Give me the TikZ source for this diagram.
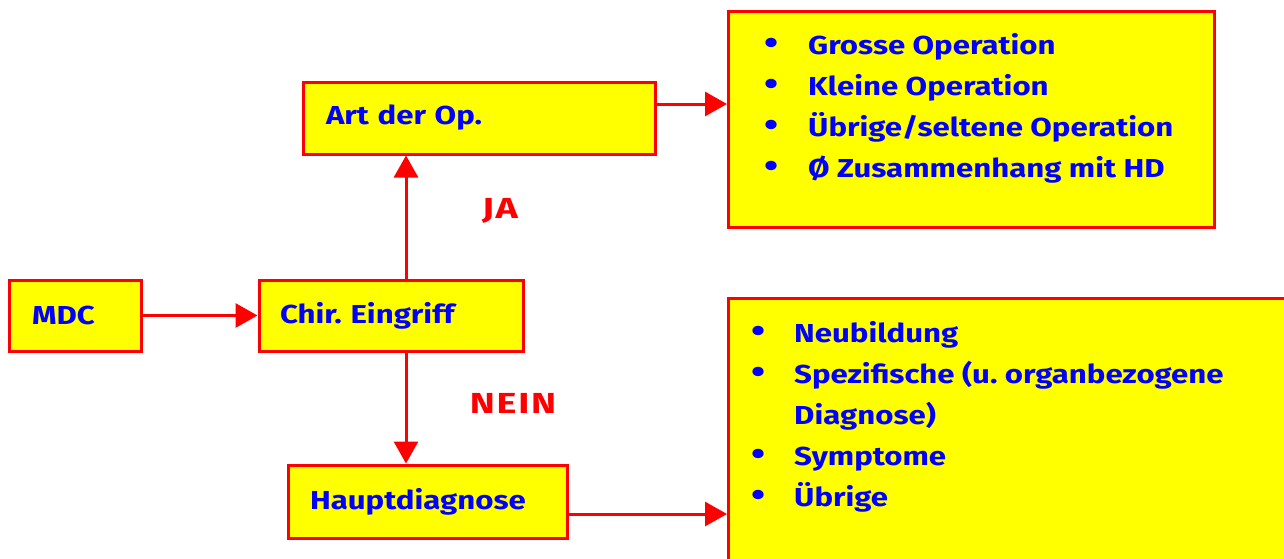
\documentclass[tikz,border=0pt]{standalone}
\usepackage{fontspec}
\setmainfont{Fira Sans}[BoldFont={Fira Sans Bold}, BoldFeatures={FakeStretch=1.2}]
\newfontfamily\decfont{Fira Sans Bold}[FakeStretch=1.3, LetterSpace=6]
\usetikzlibrary{arrows.meta}
\definecolor{boxyellow}{RGB}{255,255,0}
\definecolor{boxred}{RGB}{255,0,0}
\definecolor{txtblue}{RGB}{0,0,255}
\tikzset{
  box/.style={draw=boxred, line width=3pt, fill=boxyellow, rectangle, inner ysep=0pt,
    font=\bfseries\fontsize{26}{30}\selectfont, text=txtblue, align=left},
  listtxt/.style={inner sep=0pt, font=\bfseries\fontsize{26}{41}\selectfont, text=txtblue, align=left},
  conn/.style={draw=boxred, line width=3pt, -{Triangle[length=22pt,width=24pt]}},
  decision/.style={inner sep=0pt, font=\decfont\fontsize{29}{32}\selectfont, text=boxred}
}
\newcommand{\bul}[1]{\makebox[#1][l]{\scalebox{1.3}{\textbullet}}}
\frenchspacing
\begin{document}
\begin{tikzpicture}[x=1pt,y=-1pt]
\useasboundingbox (0,0) rectangle (1284,558);
\clip (0,0) rectangle (1284,558);
% boxes
\node[box, minimum height=71pt, text width=86pt, inner xsep=23pt] (mdc) at (75,315.5) {MDC};
\node[box, minimum height=71pt, text width=222pt, inner xsep=21pt] (chir) at (391,315.5) {Chir.\ Eingriff};
\node[box, minimum height=72pt, text width=306pt, inner xsep=23pt] (art) at (479,118) {Art der Op.};
\node[box, minimum height=73pt, text width=235pt, inner xsep=22pt] (haupt) at (427.5,501.5) {Hauptdiagnose};
\node[box, anchor=north west, minimum width=486pt, minimum height=216pt, inner sep=0pt] (ops) at (727,10) {};
\node[box, anchor=north west, minimum width=600pt, minimum height=300pt, inner sep=0pt] (diag) at (727,297) {};
% lists
\node[listtxt, anchor=north west] (opslist) at (764,24) {%
\rule{0pt}{30pt}\bul{44pt}Grosse Operation\\
\bul{44pt}Kleine Operation\\
\bul{44pt}Übrige/seltene Operation\\
\bul{44pt}Ø Zusammenhang mit HD};
\node[listtxt, anchor=north west] (diaglist) at (751,312) {%
\rule{0pt}{30pt}\bul{43pt}Neubildung\\
\bul{43pt}Spezifische (u. organbezogene\\
\hspace*{43pt}Diagnose)\\
\bul{43pt}Symptome\\
\bul{43pt}Übrige};
% connectors
\draw[conn] (mdc.east) -- (chir.west);
\draw[conn] (chir.north -| 406,0) -- (art.south -| 406,0);
\draw[conn] (chir.south -| 406,0) -- (haupt.north -| 406,0);
\draw[conn] (art.east |- 0,104) -- (ops.west |- 0,104);
\draw[conn] (haupt.east |- 0,514) -- (diag.west |- 0,514);
% decision labels
\node[decision] (ja) at (500,211) {JA};
\node[decision] (nein) at (513,403) {NEIN};
\end{tikzpicture}
\end{document}
